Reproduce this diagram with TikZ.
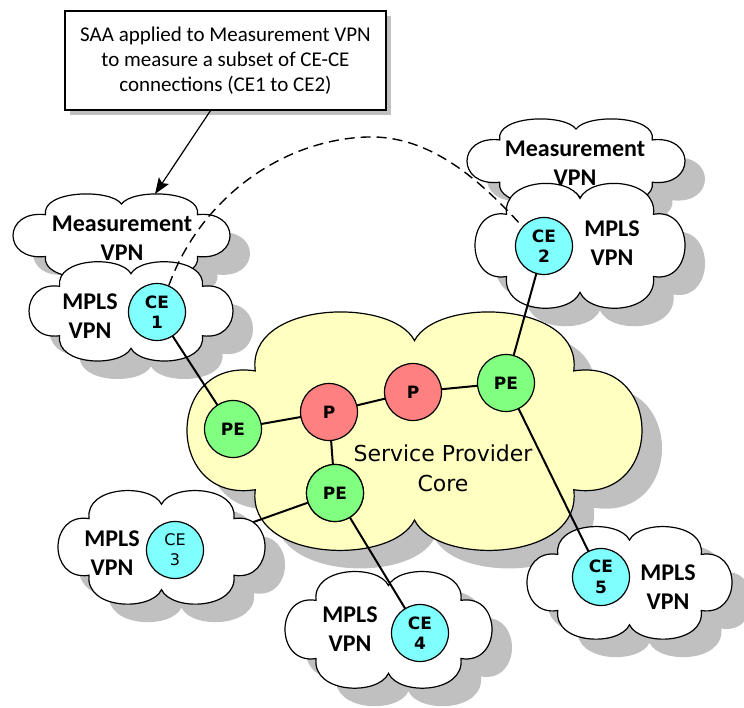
\documentclass[tikz,border=0pt]{standalone}
\usepackage{fontspec}
\setmainfont{Carlito}
\newfontfamily\dvs{DejaVu Sans}
\usetikzlibrary{arrows.meta}
\definecolor{cefill}{RGB}{128,255,255}
\definecolor{pefill}{RGB}{128,255,128}
\definecolor{pfill}{RGB}{255,128,128}
\definecolor{corefill}{RGB}{255,255,192}
\definecolor{shadowc}{RGB}{192,192,192}
\newcommand\cloudpath{(0.15,0.24) .. controls (0.13,-0.06) and (0.45,-0.08) .. (0.5,0.11) .. controls (0.55,-0.08) and (0.87,-0.06) .. (0.85,0.24) .. controls (1.05,0.18) and (1.05,0.81) .. (0.85,0.75) .. controls (0.87,1.06) and (0.55,1.08) .. (0.5,0.88) .. controls (0.45,1.08) and (0.13,1.06) .. (0.15,0.75) .. controls (-0.05,0.81) and (-0.05,0.18) .. (0.15,0.24) -- cycle}
\newcommand\drawcloud[5]{%
  \begin{scope}[shift={(#1+20,#2+18)},x=#3pt,y=-#4pt]
    \fill[shadowc] \cloudpath;
  \end{scope}
  \begin{scope}[shift={(#1,#2)},x=#3pt,y=-#4pt]
    \filldraw[fill=#5,draw=black,line width=1.2pt] \cloudpath;
  \end{scope}}
\tikzset{
  dev/.style={circle, draw=black, line width=1.2pt, minimum size=57pt, inner sep=0pt,
    font=\dvs\bfseries\fontsize{17}{20.5}\selectfont, align=center},
  cenode/.style={dev, fill=cefill},
  penode/.style={dev, fill=pefill},
  pnode/.style={dev, fill=pfill},
  link/.style={line width=2pt},
  lbl/.style={font=\bfseries\fontsize{24}{29}\selectfont, align=center, inner sep=0pt},
}
\begin{document}
\begin{tikzpicture}[x=1pt,y=-1pt]
\useasboundingbox (0,0) rectangle (744,708);
% core cloud
\drawcloud{187}{315}{455}{233}{corefill}
% link PE-CE3 (hidden under cloud 3)
\node[penode] (pe3) at (335,493) {PE};
\node[cenode, font=\dvs\fontsize{16}{20}\selectfont] (ce3) at (175,550) {CE\\3};
\draw[link] (pe3) -- (ce3);
% left clouds
\drawcloud{13}{195}{217}{82}{white}
\drawcloud{29}{263}{204}{97}{white}
% right clouds
\drawcloud{467}{120}{218}{83}{white}
\drawcloud{475}{185}{210}{122}{white}
% lower clouds
\drawcloud{58}{492}{207}{111}{white}
\drawcloud{285}{573}{207}{114}{white}
\drawcloud{527}{528}{205}{110}{white}
% cloud labels
\node[lbl] (lm1) at (122,238) {Measurement\\VPN};
\node[lbl] (lmp1) at (90,316) {MPLS\\VPN};
\node[lbl] (lm2) at (575,163) {Measurement\\VPN};
\node[lbl] (lmp2) at (612,243) {MPLS\\VPN};
\node[lbl] (lmp3) at (112,553) {MPLS\\VPN};
\node[lbl] (lmp4) at (350,629) {MPLS\\VPN};
\node[lbl] (lmp5) at (668,587) {MPLS\\VPN};
\node[font=\dvs\fontsize{22}{30}\selectfont, align=center] (core) at (443,468) {Service Provider\\Core};
% device positions
\coordinate (ce1) at (157,312);
\coordinate (ce2) at (544,246);
\coordinate (ce4) at (420,633);
\coordinate (ce5) at (601,577);
\coordinate (pe1) at (233,429);
\coordinate (p1) at (329,412);
\coordinate (p2) at (413,392);
\coordinate (pe2) at (506,383);
% links (centre to centre, covered by the device circles)
\draw[link] (ce1) -- (pe1);
\draw[link] (pe1) -- (p1);
\draw[link] (p1) -- (p2);
\draw[link] (p2) -- (pe2);
\draw[link] (pe2) -- (ce2);
\draw[link] (pe2) -- (ce5);
\draw[link] (p1) -- (pe3);
\draw[link] (pe3) -- (ce4);
% devices
\node[cenode] (ce1n) at (ce1) {CE\\1};
\node[cenode] (ce2n) at (ce2) {CE\\2};
\node[cenode] (ce4n) at (ce4) {CE\\4};
\node[cenode] (ce5n) at (ce5) {CE\\5};
\node[penode] (pe1n) at (pe1) {PE};
\node[pnode] (p1n) at (p1) {P};
\node[pnode] (p2n) at (p2) {P};
\node[penode] (pe2n) at (pe2) {PE};
\node[penode] (pe3n) at (pe3) {PE};
\node[cenode, font=\dvs\fontsize{16}{20}\selectfont] (ce3n) at (ce3) {CE\\3};
% dashed measurement path
\coordinate (dpeak) at (367,137);
\draw[line width=1.4pt, dash pattern=on 10pt off 6pt] (ce1n.66) .. controls (200,200) and (280,140) .. (dpeak) .. controls (430,135) and (480,180) .. (ce2n.138);
% callout box
\fill[shadowc] (70,16) rectangle (391,115);
\node[draw, fill=white, line width=1.2pt, minimum width=321pt, minimum height=99pt, align=center,
  inner sep=0pt, font=\fontsize{21}{25}\selectfont] (box) at (225.5,60.5)
  {SAA applied to Measurement VPN\\to measure a subset of CE-CE\\connections (CE1 to CE2)};
\coordinate (m1top) at (155,194);
\draw[line width=1.2pt, -{Stealth[length=16pt,width=12pt,inset=3pt]}] ([xshift=-15pt]box.south) -- (m1top);
\end{tikzpicture}
\end{document}
